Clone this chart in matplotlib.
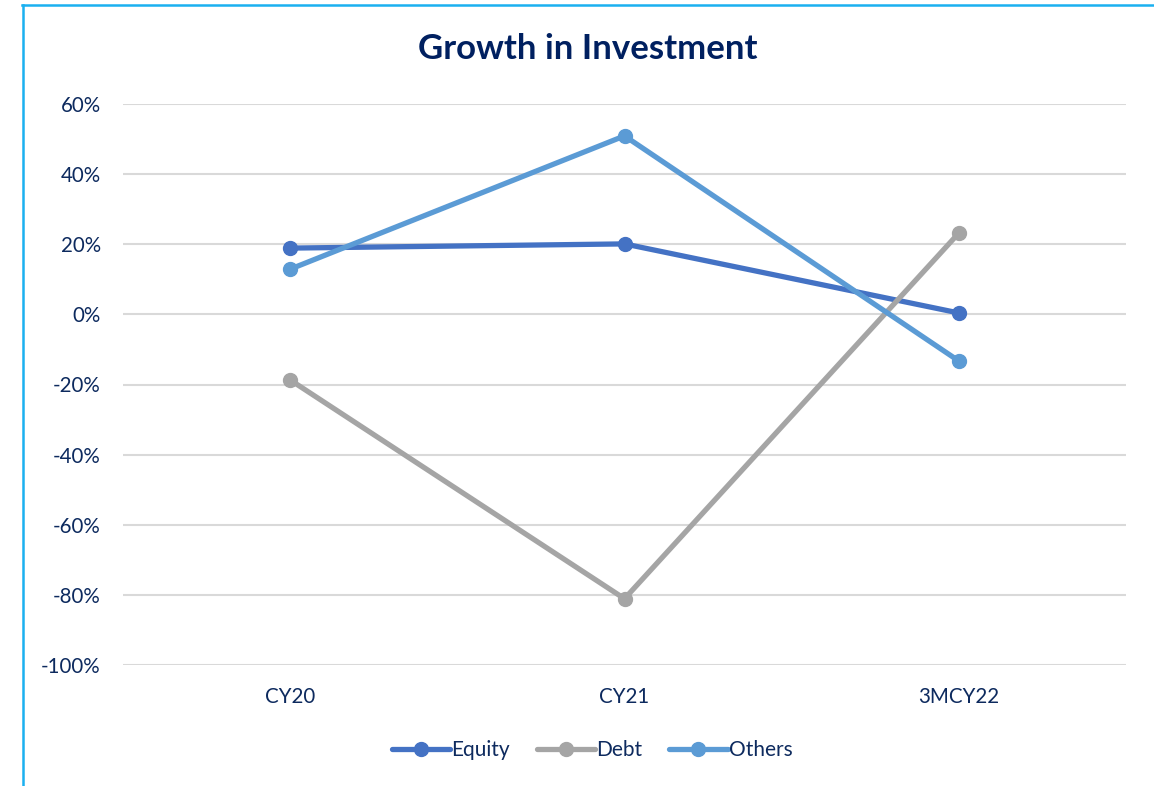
import matplotlib
matplotlib.use("Agg")
import matplotlib.pyplot as plt
from matplotlib.lines import Line2D

categories = ["CY20", "CY21", "3MCY22"]
equity = [18.9, 20.1, 0.4]
debt = [-18.7, -81.1, 23.2]
others = [12.9, 50.9, -13.3]
yticks = [60, 40, 20, 0, -20, -40, -60, -80, -100]

series = [("Equity", equity, "#4472C4"), ("Debt", debt, "#A5A5A5"), ("Others", others, "#5B9BD5")]

plt.rcParams['font.family'] = ['Lato', 'DejaVu Sans']
navy = "#0D2A5E"

W, H = 1154, 786
fig = plt.figure(figsize=(W / 100, H / 100), dpi=100)
ax = fig.add_axes([123 / W, 1 - 665 / H, (1126 - 123) / W, (665 - 104) / H])

x = list(range(len(categories)))
for name, vals, col in series:
    ax.plot(x, vals, color=col, lw=3.8, marker="o", markersize=10, label=name,
            solid_capstyle="round", zorder=3)

ax.set_xlim(-0.5, 2.5)
ax.set_ylim(-100, 60)
ax.set_yticks(yticks)
ax.set_yticklabels([f"{v}%" for v in yticks])
ax.set_xticks(x)
ax.set_xticklabels(categories)
ax.grid(axis="y", color="#D9D9D9", lw=1.5, zorder=0)
ax.set_axisbelow(True)
for s in ax.spines.values():
    s.set_visible(False)
ax.tick_params(axis="both", length=0, labelsize=14.8, labelcolor=navy)
ax.tick_params(axis="y", pad=16)
ax.tick_params(axis="x", pad=16)

fig.text(588 / W, 1 - 49 / H, "Growth in Investment", ha="center", va="center",
         fontsize=25, fontweight="bold", color="#002060")

leg = fig.legend(loc="center", bbox_to_anchor=(592 / W, 1 - 750 / H), ncol=3, frameon=False,
                 fontsize=15, handlelength=2.8, handletextpad=0.05, columnspacing=1.3,
                 labelcolor=navy)

border = "#1AB0F0"
fig.add_artist(Line2D([22 / W, 1.0], [1 - 5 / H, 1 - 5 / H], color=border, lw=1.8, transform=fig.transFigure))
fig.add_artist(Line2D([22.5 / W, 22.5 / W], [1 - 5 / H, 0], color=border, lw=1.8, transform=fig.transFigure))

fig.savefig("out.png", dpi=100)
